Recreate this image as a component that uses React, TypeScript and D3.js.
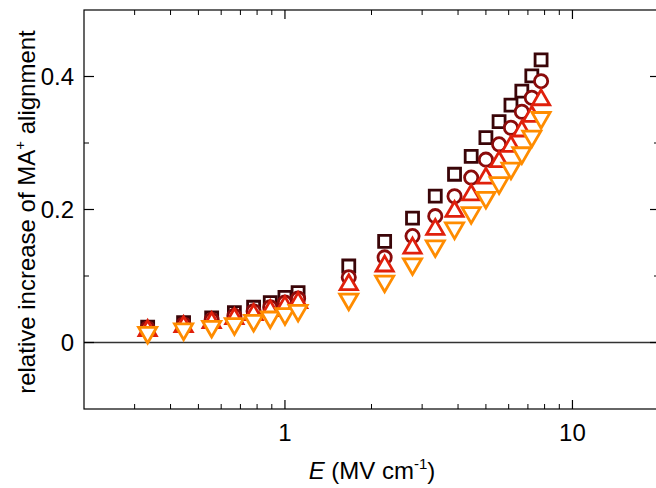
import * as d3 from 'd3'

// field strength (MV/cm), shared by all four series
const fieldE = [0.333, 0.444, 0.556, 0.667, 0.778, 0.889, 1.0, 1.111, 1.667, 2.222, 2.778, 3.333, 3.889, 4.444, 5.0, 5.556, 6.111, 6.667, 7.222, 7.778]

const squareVals = [0.023, 0.030, 0.037, 0.045, 0.053, 0.060, 0.068, 0.075, 0.115, 0.152, 0.187, 0.220, 0.253, 0.280, 0.308, 0.332, 0.357, 0.378, 0.401, 0.425]
const circleVals = [0.021, 0.027, 0.034, 0.040, 0.047, 0.053, 0.060, 0.066, 0.098, 0.128, 0.160, 0.190, 0.220, 0.248, 0.275, 0.298, 0.323, 0.347, 0.368, 0.393]
const upTriVals = [0.018, 0.024, 0.030, 0.036, 0.042, 0.048, 0.054, 0.060, 0.087, 0.115, 0.142, 0.170, 0.197, 0.222, 0.247, 0.272, 0.295, 0.318, 0.340, 0.365]
const downTriVals = [0.015, 0.020, 0.024, 0.028, 0.033, 0.038, 0.043, 0.048, 0.065, 0.092, 0.118, 0.145, 0.172, 0.195, 0.218, 0.240, 0.262, 0.285, 0.310, 0.338]

const xMajor = [1, 10]
const xMinor = [0.3, 0.4, 0.5, 0.6, 0.7, 0.8, 0.9, 2, 3, 4, 5, 6, 7, 8, 9]
const yMajor = [0, 0.2, 0.4]
const yMinor = [0.1, 0.3]

const series = [
  { vals: squareVals, color: '#3a0508', type: d3.symbolSquare, size: 144, rot: 0 },
  { vals: circleVals, color: '#8a0b0b', type: d3.symbolCircle, size: 138, rot: 0 },
  { vals: upTriVals, color: '#e0200c', type: d3.symbolTriangle, size: 128, rot: 0 },
  { vals: downTriVals, color: '#ff8c00', type: d3.symbolTriangle, size: 142, rot: 180 },
]

const W = 656
const H = 488
const left = 84, right = 659, top = 10, bottom = 409

export default function App() {
  const x = d3.scaleLog().domain([0.2, 20]).range([left, right])
  const y = d3.scaleLinear().domain([-0.1, 0.5]).range([bottom, top])
  const font = '"Liberation Sans", Arial, Helvetica, sans-serif'
  const fs = 24

  return (
    <div>
      <style>{'body{margin:0}'}</style>
      <svg width={W} height={H} style={{ display: 'block', fontFamily: font }}>
        {/* zero line */}
        <line x1={left} x2={right} y1={y(0)} y2={y(0)} stroke="#333" strokeWidth={1.5} />

        {series.map((s, si) => (
          <g key={si}>
            {s.vals.map((v, i) => (
              <path
                key={i}
                d={d3.symbol(s.type, s.size)() || ''}
                transform={`translate(${x(fieldE[i])},${y(v)}) rotate(${s.rot})`}
                fill="#fff"
                stroke={s.color}
                strokeWidth={2.8}
              />
            ))}
          </g>
        ))}

        {/* frame */}
        <rect x={left} y={top} width={right - left} height={bottom - top} fill="none" stroke="#000" strokeWidth={1.2} />

        {/* x ticks, bottom and top, pointing in */}
        {xMajor.map(t => (
          <g key={'xM' + t}>
            <line x1={x(t)} x2={x(t)} y1={bottom} y2={bottom - 9} stroke="#000" strokeWidth={1.2} />
            <line x1={x(t)} x2={x(t)} y1={top} y2={top + 9} stroke="#000" strokeWidth={1.2} />
            <text x={x(t)} y={441} textAnchor="middle" fontSize={fs}>{t}</text>
          </g>
        ))}
        {xMinor.map(t => (
          <g key={'xm' + t}>
            <line x1={x(t)} x2={x(t)} y1={bottom} y2={bottom - 5} stroke="#000" strokeWidth={1} />
            <line x1={x(t)} x2={x(t)} y1={top} y2={top + 5} stroke="#000" strokeWidth={1} />
          </g>
        ))}

        {/* y ticks, left and right */}
        {yMajor.map(t => (
          <g key={'yM' + t}>
            <line x1={left} x2={left + 10} y1={y(t)} y2={y(t)} stroke="#000" strokeWidth={1.2} />
            <line x1={right} x2={right - 9} y1={y(t)} y2={y(t)} stroke="#000" strokeWidth={1.2} />
            <text x={74} y={y(t) + 8.5} textAnchor="end" fontSize={fs}>{t === 0 ? '0' : t.toFixed(1)}</text>
          </g>
        ))}
        {yMinor.map(t => (
          <g key={'ym' + t}>
            <line x1={left} x2={left + 5} y1={y(t)} y2={y(t)} stroke="#000" strokeWidth={1} />
            <line x1={right} x2={right - 5} y1={y(t)} y2={y(t)} stroke="#000" strokeWidth={1} />
          </g>
        ))}

        {/* axis titles */}
        <text x={372} y={479} textAnchor="middle" fontSize={fs}>
          <tspan fontStyle="italic">E</tspan> (MV cm
          <tspan fontSize={15} dy={-10}>-1</tspan>
          <tspan dy={10}>)</tspan>
        </text>
        <text transform={`translate(35,${212}) rotate(-90)`} textAnchor="middle" fontSize={fs}>
          relative increase of MA
          <tspan fontSize={15} dy={-10}>+</tspan>
          <tspan dy={10}> alignment</tspan>
        </text>
      </svg>
    </div>
  )
}
